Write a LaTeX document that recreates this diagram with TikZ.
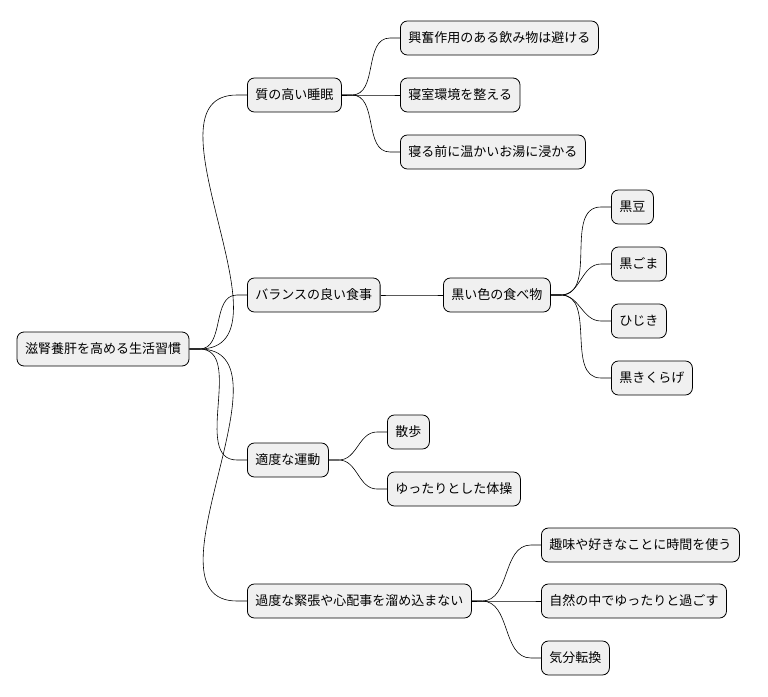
\documentclass[tikz,border=0pt]{standalone}
\usepackage{fontspec}
\setmainfont{Noto Sans CJK JP}
\begin{document}
\begin{tikzpicture}[x=1pt,y=-1pt,
  box/.style={draw=black,line width=0.8pt,fill=black!6,rounded corners=7pt,minimum height=34pt,inner xsep=8pt,font=\fontsize{13}{15}\selectfont},
  link/.style={line width=0.6pt}]
\useasboundingbox (0,0) rectangle (768,696);
\node[box] (r) at (103,349) {滋腎養肝を高める生活習慣};
\node[box,anchor=west] (a) at (247,95) {質の高い睡眠};
\node[box,anchor=west] (b) at (247,295) {バランスの良い食事};
\node[box,anchor=west] (c) at (247,460) {適度な運動};
\node[box,anchor=west] (d) at (247,601) {過度な緊張や心配事を溜め込まない};
\node[box,anchor=west] (a1) at (400,38) {興奮作用のある飲み物は避ける};
\node[box,anchor=west] (a2) at (400,95) {寝室環境を整える};
\node[box,anchor=west] (a3) at (400,152) {寝る前に温かいお湯に浸かる};
\node[box,anchor=west] (b1) at (443,295) {黒い色の食べ物};
\node[box,anchor=west] (b11) at (611,207) {黒豆};
\node[box,anchor=west] (b12) at (611,264) {黒ごま};
\node[box,anchor=west] (b13) at (611,321) {ひじき};
\node[box,anchor=west] (b14) at (611,378) {黒きくらげ};
\node[box,anchor=west] (c1) at (387,432) {散歩};
\node[box,anchor=west] (c2) at (387,489) {ゆったりとした体操};
\node[box,anchor=west] (d1) at (541,545) {趣味や好きなことに時間を使う};
\node[box,anchor=west] (d2) at (541,601) {自然の中でゆったりと過ごす};
\node[box,anchor=west] (d3) at (541,658) {気分転換};
\foreach \p/\c in {r/a,r/b,r/c,r/d,a/a1,a/a2,a/a3,b/b1,b1/b11,b1/b12,b1/b13,b1/b14,c/c1,c/c2,d/d1,d/d2,d/d3}{
  \draw[link] (\p.east) -- ++(10,0) to[out=0,in=180] ([xshift=-10pt]\c.west) -- (\c.west);
}
\end{tikzpicture}
\end{document}
